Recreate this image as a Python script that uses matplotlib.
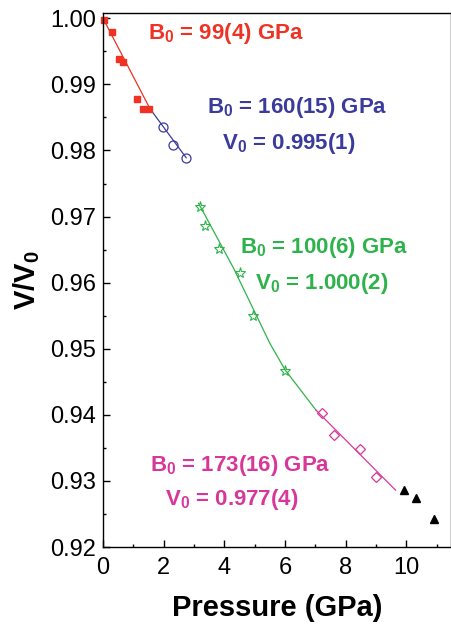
import matplotlib
matplotlib.use("Agg")
import matplotlib.pyplot as plt
from matplotlib.ticker import MultipleLocator

plt.rcParams['font.family'] = ['Liberation Sans', 'DejaVu Sans']
plt.rcParams['mathtext.fontset'] = 'custom'
plt.rcParams['mathtext.rm'] = 'Liberation Sans:bold'
plt.rcParams['mathtext.bf'] = 'Liberation Sans:bold'
plt.rcParams['mathtext.it'] = 'Liberation Sans:bold'

# ---- data ----
red_P = [0.03, 0.29, 0.54, 0.67, 1.11, 1.33, 1.53]
red_V = [0.9997, 0.9979, 0.9939, 0.9934, 0.9878, 0.9862, 0.9862]
red_fit_P = [0.0, 1.55]
red_fit_V = [1.0000, 0.9863]

blue_P = [1.99, 2.30, 2.74]
blue_V = [0.9835, 0.9809, 0.9789]
blue_fit_P = [1.55, 2.74]
blue_fit_V = [0.9863, 0.9789]

green_P = [3.20, 3.37, 3.83, 4.52, 4.94, 6.00]
green_V = [0.9715, 0.9686, 0.9651, 0.9615, 0.9549, 0.9466]
green_fit_P = [3.15, 4.30, 5.50, 6.00, 7.02]
green_fit_V = [0.9720, 0.9622, 0.9508, 0.9468, 0.9407]

pink_P = [7.21, 7.62, 8.46, 9.01]
pink_V = [0.9403, 0.9370, 0.9348, 0.9306]
pink_fit_P = [7.02, 9.64]
pink_fit_V = [0.9407, 0.9286]

black_P = [9.91, 10.32, 10.92]
black_V = [0.9286, 0.9274, 0.9243]

xticks = [0, 2, 4, 6, 8, 10]
yticks = [0.92, 0.93, 0.94, 0.95, 0.96, 0.97, 0.98, 0.99, 1.00]

RED = '#ee3224'
BLUE = '#3b3b9c'
GREEN = '#2eb34c'
PINK = '#d8379a'

fig = plt.figure(figsize=(4.51, 6.25), dpi=100)
ax = fig.add_axes([103/451, (625-547)/625, (450.5-103)/451, (547-13)/625])

lw = 0.9
ax.plot(red_fit_P, red_fit_V, color=RED, lw=lw)
ax.plot(blue_fit_P, blue_fit_V, color=BLUE, lw=lw)
ax.plot(green_fit_P, green_fit_V, color=GREEN, lw=lw)
ax.plot(pink_fit_P, pink_fit_V, color=PINK, lw=lw)

ax.plot(red_P, red_V, 's', color=RED, ms=5, mec=RED, clip_on=False)
ax.plot(blue_P, blue_V, 'o', mfc='none', mec=BLUE, ms=6.5, mew=0.9)
ax.plot(green_P, green_V, '*', mfc='none', mec=GREEN, ms=8, mew=0.8)
ax.plot(pink_P, pink_V, 'D', mfc='none', mec=PINK, ms=5.5, mew=0.9)
ax.plot(black_P, black_V, '^', color='black', ms=6)

ax.set_xlim(0, 11.45)
ax.set_ylim(0.92, 1.0008)
ax.set_xticks(xticks)
ax.set_xticklabels([str(t) for t in xticks])
ax.set_yticks(yticks)
ax.set_yticklabels(['%.2f' % t for t in yticks])
ax.xaxis.set_minor_locator(MultipleLocator(1))
ax.yaxis.set_minor_locator(MultipleLocator(0.005))
ax.tick_params(which='both', direction='in', top=False, right=False, labelsize=17, width=1.0)
ax.tick_params(which='major', length=5)
ax.tick_params(which='minor', length=2.5)
ax.tick_params(axis='x', pad=7)
ax.tick_params(axis='y', pad=5)
for s in ax.spines.values():
    s.set_linewidth(1.0)

ax.set_xlabel('Pressure (GPa)', fontsize=21, fontweight='bold', labelpad=11)
ax.set_ylabel(r'V/V$_0$', fontsize=21, fontweight='bold', labelpad=6)

fs = 16
def label(x, y, txt, color):
    fig.text(x/451, 1 - y/625, txt, color=color, fontsize=fs, fontweight='bold',
             ha='left', va='center')

label(148, 33, r'B$_0$ = 99(4) GPa', RED)
label(207, 108, r'B$_0$ = 160(15) GPa', BLUE)
label(222, 143, r'V$_0$ = 0.995(1)', BLUE)
label(240, 248, r'B$_0$ = 100(6) GPa', GREEN)
label(255, 283, r'V$_0$ = 1.000(2)', GREEN)
label(150, 466, r'B$_0$ = 173(16) GPa', PINK)
label(165, 500, r'V$_0$ = 0.977(4)', PINK)

fig.savefig('out.png', dpi=100)
